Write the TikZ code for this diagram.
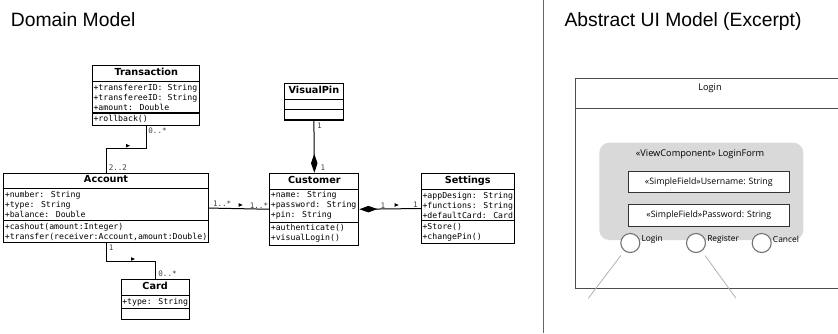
\documentclass[tikz,border=0pt]{standalone}
\usepackage{fontspec}
\setmainfont{Liberation Sans}
\newfontfamily\umlmono{DejaVu Sans Mono}
\newfontfamily\umlsans{DejaVu Sans}
\newfontfamily\uifont{Open Sans}
\usetikzlibrary{shapes.multipart,arrows.meta}

\newcommand{\umltitle}[1]{{\umlsans\bfseries\fontsize{9.7}{12}\selectfont\rule[-3.5pt]{0pt}{10pt}#1}}

\begin{document}
\begin{tikzpicture}
        [x=1pt, y=-1pt,
         umlclass/.style = {rectangle split, rectangle split parts=3, draw, line width=1.1pt,
                            rectangle split part align={center,left,left}, align=left,
                            anchor=north west, inner xsep=1pt, inner ysep=2pt,
                            rectangle split empty part height=1.5pt,
                            rectangle split empty part depth=0pt,
                            font=\umlmono\fontsize{8.2}{10}\selectfont},
         assoc/.style = {line width=1pt},
         mult/.style = {font=\umlmono\fontsize{7.6}{9}\selectfont, text=black!75, inner sep=0pt},
         navtri/.pic = {\fill (-2,-1.8) -- (2,0) -- (-2,1.8) -- cycle;},
         heading/.style = {font=\fontsize{19.3}{23}\selectfont, anchor=base west, inner sep=0pt},
         uitext/.style = {font=\uifont\fontsize{9.2}{11}\selectfont, inner sep=0pt},
         field/.style = {draw=black!80, fill=white, line width=0.9pt, minimum width=161pt,
                         minimum height=21.7pt, uitext, font=\uifont\fontsize{8.8}{10}\selectfont},
         button/.style = {circle, draw=black!55, fill=white, line width=1.1pt, minimum size=19pt, inner sep=0pt},
         btnlabel/.style = {font=\uifont\fontsize{8.4}{10}\selectfont, inner sep=1pt, yshift=4pt},
         flow/.style = {draw=black!30, line width=0.8pt, shorten <=5.5pt}]
        \useasboundingbox (0,0) rectangle (838,333);
        \clip (0,0) rectangle (838,333);

        % domain model
        \node[heading] (domaintitle) at (10.7,26.7) {Domain Model};
        \node[umlclass, minimum width=107.3pt] (Transaction) at (92,65)
            {\umltitle{Transaction}
             \nodepart{two}+transfererID: String\\+transfereeID: String\\+amount: Double
             \nodepart{three}+rollback()};
        \node[umlclass, minimum width=204pt] (Account) at (3.3,172.7)
            {\umltitle{Account}
             \nodepart{two}+number: String\\+type: String\\+balance: Double
             \nodepart{three}+cashout(amount:Integer)\\+transfer(receiver:Account,amount:Double)};
        \node[umlclass, minimum width=89pt] (Customer) at (269.3,172.7)
            {\umltitle{Customer}
             \nodepart{two}+name: String\\+password: String\\+pin: String
             \nodepart{three}+authenticate()\\+visualLogin()};
        \node[umlclass, minimum width=92.3pt] (Settings) at (421,172.7)
            {\umltitle{Settings}
             \nodepart{two}+appDesign: String\\+functions: String\\+defaultCard: Card
             \nodepart{three}+Store()\\+changePin()};
        \node[umlclass, minimum width=58.7pt] (VisualPin) at (284,82.7)
            {\umltitle{VisualPin}\nodepart{two}\nodepart{three}};
        \node[umlclass, minimum width=67.6pt] (Card) at (120.7,279.3)
            {\umltitle{Card}\nodepart{two}+type: String\nodepart{three}};

        \draw[assoc] (Transaction.south) -- ++(0,22.5) -| (Account.north);
        \draw[assoc] (Account.south) -- ++(0,18.3) -| (Card.north);
        \draw[assoc] (Account.east) -- (Customer.west);
        \draw[assoc, {Diamond[length=18pt, width=6.5pt]}-] (Customer.east) -- (Settings.west);
        \draw[assoc, -{Diamond[length=19pt, width=6.5pt]}] (VisualPin.south) -- (Customer.north);

        \node[mult, anchor=north west] at ([xshift=2pt, yshift=-2pt]Transaction.south) {0..*};
        \node[mult, anchor=south west] at ([xshift=2.5pt, yshift=2pt]Account.north) {2..2};
        \node[mult, anchor=south west] at ([xshift=4pt, yshift=1pt]Account.east) {1..*};
        \node[mult, anchor=south east] at ([xshift=-1pt, yshift=1pt]Customer.west) {1..*};
        \node[mult, anchor=south west] at ([xshift=21pt, yshift=1pt]Customer.east) {1};
        \node[mult, anchor=south east] at ([xshift=-3pt, yshift=1pt]Settings.west) {1};
        \node[mult, anchor=north west] at ([xshift=3pt, yshift=-2pt]VisualPin.south) {1};
        \node[mult, anchor=south west] at ([xshift=6pt, yshift=2pt]Customer.north) {1};
        \node[mult, anchor=north west] at ([xshift=2.5pt, yshift=-1.5pt]Account.south) {1};
        \node[mult, anchor=south west] at ([xshift=3pt, yshift=2pt]Card.north) {0..*};
        \pic at (128,145.7) {navtri};
        \pic at (240.7,205) {navtri};
        \pic at (396.7,205) {navtri};
        \pic at (133,259) {navtri};

        % abstract ui model
        \draw[black!60, line width=1pt] (543.7,0) -- (543.7,333);
        \node[heading] (uititle) at (564.3,26.7) {Abstract UI Model (Excerpt)};
        \node[draw=black!70, line width=1pt, minimum width=270pt, minimum height=210pt,
              anchor=north west] (loginwin) at (575,77.7) {};
        \draw[black!70, line width=1pt] ([yshift=-30.6pt]loginwin.north west) -- ([yshift=-30.6pt]loginwin.north east);
        \node[uitext] (winname) at (710,88.3) {Login};
        \node[fill=black!15, rounded corners=10pt, minimum width=204pt, minimum height=97.3pt]
            (loginform) at (701.3,191.35) {};
        \node[uitext] (formname) at (700,154.3) {«ViewComponent» LoginForm};
        \node[field] (username) at (708.8,181.85) {«SimpleField»Username: String};
        \node[field] (password) at (708.8,215.15) {«SimpleField»Password: String};
        \node[button, label={[btnlabel]right:Login}] (loginbtn) at (630.3,243) {};
        \node[button, label={[btnlabel]right:Register}] (registerbtn) at (696,243) {};
        \node[button, label={[btnlabel]right:Cancel}] (cancelbtn) at (761.7,243) {};
        \coordinate (loginend) at (588.3,298.3);
        \coordinate (registerend) at (736,298.3);
        \draw[flow] (loginbtn) -- (loginend);
        \draw[flow] (registerbtn) -- (registerend);
\end{tikzpicture}
\end{document}
